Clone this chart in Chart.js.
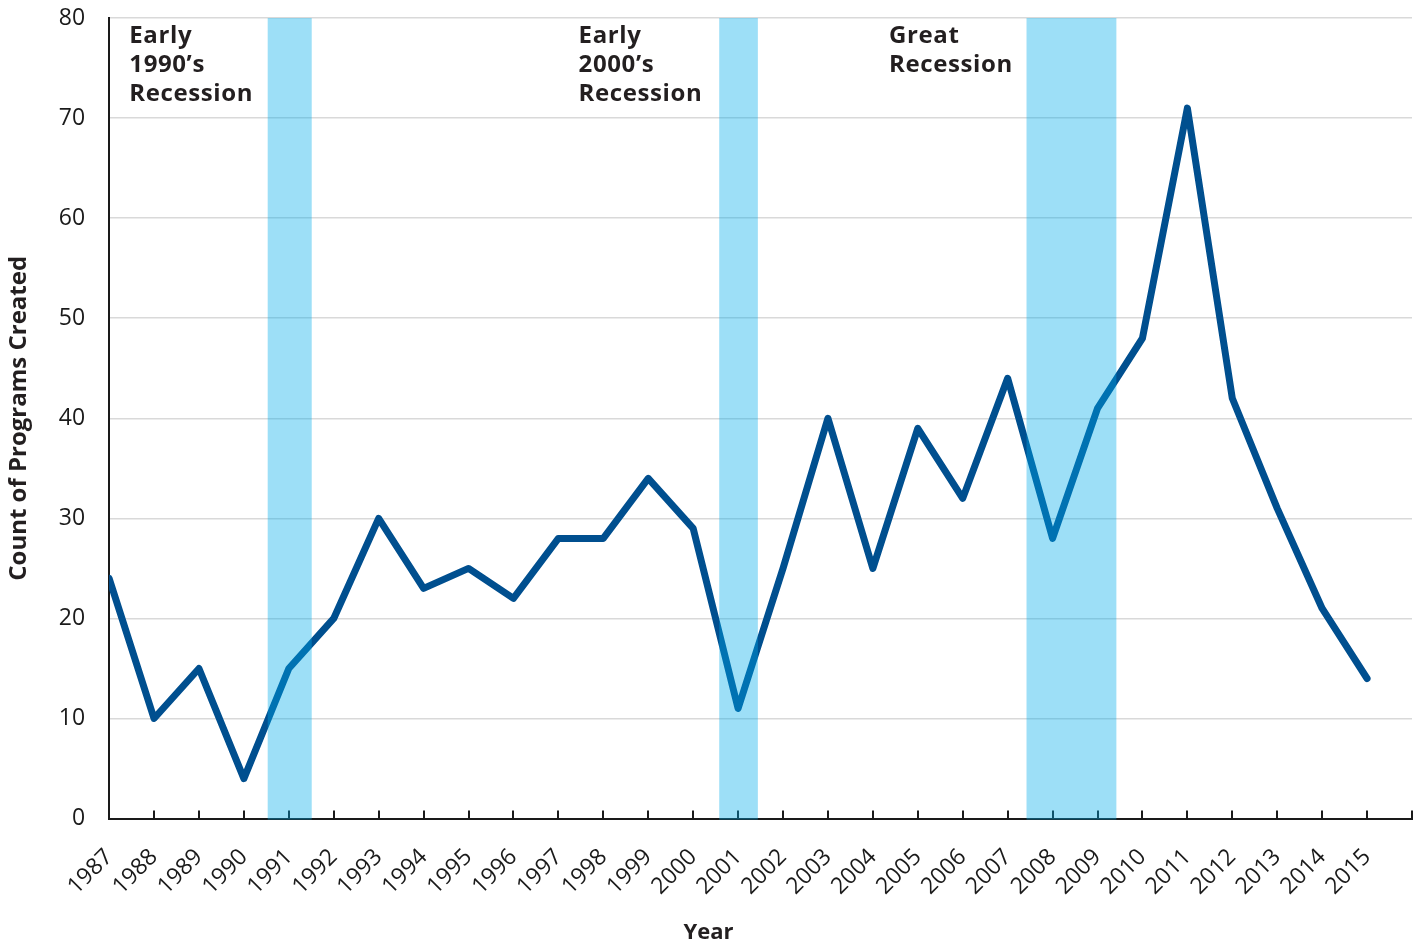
<!DOCTYPE html>
<html><head><meta charset="utf-8">
<script src="https://cdn.jsdelivr.net/npm/chart.js@4/dist/chart.umd.min.js"></script>
<style>html,body{margin:0;padding:0;background:#fff}#wrap{width:1422px;height:946px}</style>
</head><body><div id="wrap"><canvas id="c" width="1422" height="946"></canvas></div>
<script>
const years = [1987,1988,1989,1990,1991,1992,1993,1994,1995,1996,1997,1998,1999,2000,2001,2002,2003,2004,2005,2006,2007,2008,2009,2010,2011,2012,2013,2014,2015];
const programs = [24,10,15,4,15,20,30,23,25,22,28,28,34,29,11,25,40,25,39,32,44,28,41,48,71,42,31,21,14];
const recessionStart = [1990.53, 2000.58, 2007.42];
const recessionEnd = [1991.51, 2001.44, 2009.42];
const recessionLabels = [["Early","1990\u2019s","Recession"],["Early","2000\u2019s","Recession"],["Great","Recession"]];
const recessionLabelX = [1987.45, 1997.45, 2004.36];
const yTicks = [0,10,20,30,40,50,60,70,80];

const tickFont = {family:"'Open Sans', sans-serif", size:23};
const bandsPlugin = {
  id:'bands',
  afterDatasetsDraw(chart){
    const {ctx, chartArea:a, scales:{x,y}} = chart;
    ctx.save();
    ctx.strokeStyle = '#1a1a1a'; ctx.lineWidth = 2;
    for (let v = 1987; v <= 2016; v++){
      const px = Math.round(x.getPixelForValue(v));
      ctx.beginPath(); ctx.moveTo(px, a.bottom); ctx.lineTo(px, a.bottom-8); ctx.stroke();
    }
    ctx.fillStyle = 'rgba(0,172,234,0.385)';
    for (let i=0;i<recessionStart.length;i++){
      const x0 = x.getPixelForValue(recessionStart[i]);
      const x1 = x.getPixelForValue(recessionEnd[i]);
      ctx.fillRect(x0, y.getPixelForValue(80), x1-x0, y.getPixelForValue(0)-y.getPixelForValue(80)+1);
    }
    ctx.fillStyle = '#231f20';
    ctx.font = "bold 24px 'Open Sans', sans-serif";
    try { ctx.letterSpacing = '0.6px'; } catch(e) {}
    ctx.textBaseline = 'alphabetic'; ctx.textAlign='left';
    for (let i=0;i<recessionLabels.length;i++){
      const lx = x.getPixelForValue(recessionLabelX[i]);
      recessionLabels[i].forEach((t,j)=>ctx.fillText(t, lx, a.top + 25 + j*29));
    }
    ctx.restore();
  }
};

new Chart(document.getElementById('c'), {
  type:'line',
  data:{
    datasets:[{
      data: years.map((yr,i)=>({x:yr, y:programs[i]})),
      borderColor:'#004f8f', borderWidth:7, pointRadius:0, tension:0,
      borderJoinStyle:'round', borderCapStyle:'round', fill:false
    }]
  },
  options:{
    responsive:false, animation:false, devicePixelRatio:1,
    layout:{padding:{top:18,right:10,bottom:0,left:5}},
    plugins:{
      legend:{display:false}, tooltip:{enabled:false},
      title:{display:true, position:'bottom', text:'Year', color:'#231f20', font:{family:"'Open Sans', sans-serif", size:22, weight:'bold'}, padding:{top:7,bottom:0}}
    },
    scales:{
      x:{
        type:'linear', min:1987, max:2016,
        afterBuildTicks(s){ s.ticks = years.concat([2016]).map(v=>({value:v})); },
        afterFit(s){ s.paddingLeft = 0; s.paddingRight = 0; s.height = 94; },
        ticks:{ callback:(v)=> v===2016 ? '' : String(v), minRotation:45, maxRotation:45, autoSkip:false, color:'#1a1a1a', font:tickFont, padding:25 },
        grid:{display:false, drawTicks:false},
        border:{display:true, color:'#1a1a1a', width:2}
      },
      y:{
        min:0, max:80,
        afterBuildTicks(s){ s.ticks = yTicks.map(v=>({value:v})); },
        afterFit(s){ s.paddingTop = 0; s.paddingBottom = 0; },
        ticks:{ color:'#1a1a1a', font:tickFont, padding:24 },
        grid:{ color:'#d9d9d9', lineWidth:1.5, drawTicks:false },
        border:{display:true, color:'#1a1a1a', width:2},
        title:{display:true, text:'Count of Programs Created', color:'#231f20', font:{family:"'Open Sans', sans-serif", size:24, weight:'bold'}, padding:{top:0,bottom:1}}
      }
    }
  },
  plugins:[bandsPlugin]
});
</script></body></html>
